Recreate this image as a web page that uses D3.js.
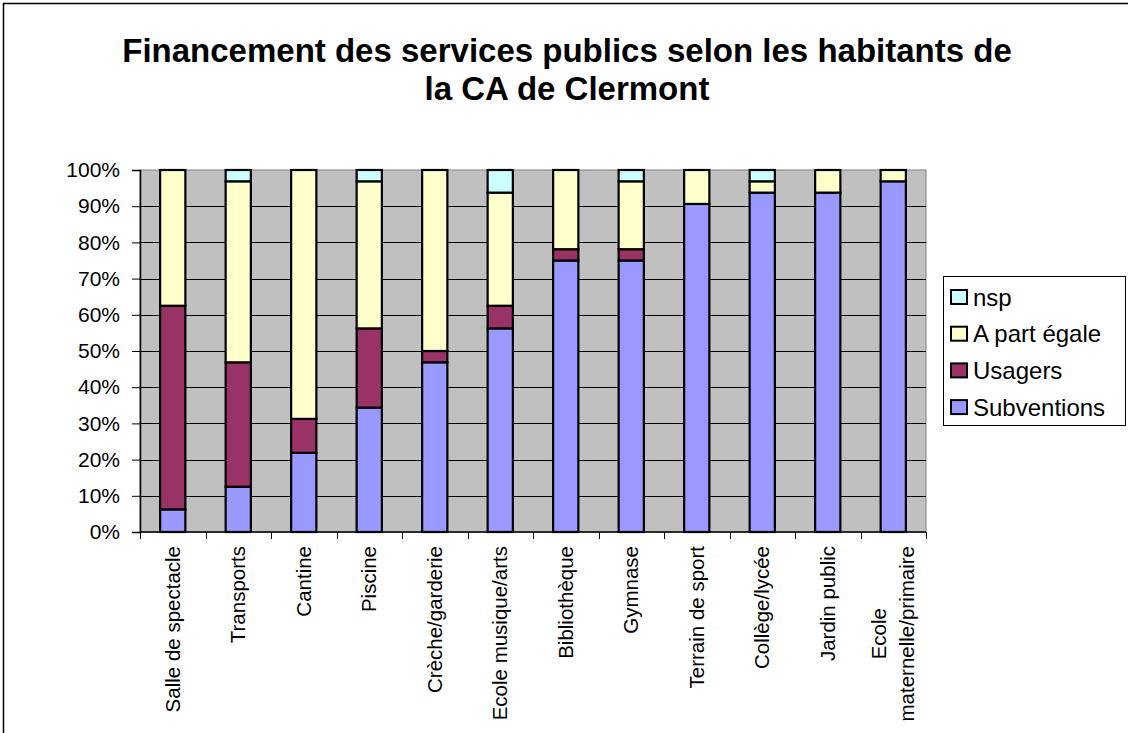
<!DOCTYPE html>
<html>
<head>
<meta charset="utf-8">
<script src="https://cdn.jsdelivr.net/npm/d3@7"></script>
<style>
  html, body { margin: 0; padding: 0; background: #fff; }
  svg { display: block; font-family: "Liberation Sans", Arial, sans-serif; }
</style>
</head>
<body>
<svg id="chart" width="1128" height="733"></svg>
<script>
// Categories (services) and their label lines
const categories = [
  "Salle de spectacle", "Transports", "Cantine", "Piscine", "Crèche/garderie",
  "Ecole musique/arts", "Bibliothèque", "Gymnase", "Terrain de sport",
  "Collège/lycée", "Jardin public", "Ecole maternelle/primaire"
];
const categoryLines = [
  ["Salle de spectacle"], ["Transports"], ["Cantine"], ["Piscine"], ["Crèche/garderie"],
  ["Ecole musique/arts"], ["Bibliothèque"], ["Gymnase"], ["Terrain de sport"],
  ["Collège/lycée"], ["Jardin public"], ["Ecole", "maternelle/primaire"]
];

// Shares of answers (%) per service, stacked bottom to top
const subventions = [6.25, 12.5, 21.875, 34.375, 46.875, 56.25, 75, 75, 90.625, 93.75, 93.75, 96.875];
const usagers     = [56.25, 34.375, 9.375, 21.875, 3.125, 6.25, 3.125, 3.125, 0, 0, 0, 0];
const partEgale   = [37.5, 50, 68.75, 40.625, 50, 31.25, 21.875, 18.75, 9.375, 3.125, 6.25, 3.125];
const nsp         = [0, 3.125, 0, 3.125, 0, 6.25, 0, 3.125, 0, 3.125, 0, 0];

const seriesNames  = ["Subventions", "Usagers", "A part égale", "nsp"];
const seriesColors = ["#9999FF", "#993366", "#FFFFCC", "#CCFFFF"];
const yTicks = [0, 10, 20, 30, 40, 50, 60, 70, 80, 90, 100];

const title = ["Financement des services publics selon les habitants de", "la CA de Clermont"];

const rows = categories.map((c, i) => ({
  cat: c,
  "Subventions": subventions[i],
  "Usagers": usagers[i],
  "A part égale": partEgale[i],
  "nsp": nsp[i]
}));

const svg = d3.select("#chart");
const plot = { left: 140, right: 926, top: 170, bottom: 532 };

// Outer chart frame
svg.append("rect")
  .attr("x", 3.5).attr("y", 3.5)
  .attr("width", 1140).attr("height", 740)
  .attr("fill", "#fff").attr("stroke", "#000").attr("stroke-width", 1.5);

// Title
const titleText = svg.append("text")
  .attr("x", 567).attr("y", 62)
  .attr("text-anchor", "middle")
  .attr("font-size", 33).attr("font-weight", "bold").attr("fill", "#000");
titleText.selectAll("tspan").data(title).join("tspan")
  .attr("x", 567).attr("dy", (d, i) => i === 0 ? 0 : 38)
  .text(d => d);

const x = d3.scaleBand().domain(categories).range([plot.left, plot.right]).paddingInner(0).paddingOuter(0);
const y = d3.scaleLinear().domain([0, 100]).range([plot.bottom, plot.top]);

// Plot area background
svg.append("rect")
  .attr("x", plot.left).attr("y", plot.top)
  .attr("width", plot.right - plot.left).attr("height", plot.bottom - plot.top)
  .attr("fill", "#C0C0C0").attr("stroke", "#808080").attr("stroke-width", 1);

// Horizontal gridlines
svg.append("g").selectAll("line").data(yTicks.filter(t => t > 0 && t < 100)).join("line")
  .attr("x1", plot.left).attr("x2", plot.right)
  .attr("y1", d => Math.round(y(d)) + 0.5).attr("y2", d => Math.round(y(d)) + 0.5)
  .attr("stroke", "#000").attr("stroke-width", 1);

// Stacked bars
const stack = d3.stack().keys(seriesNames)(rows);
const barW = x.bandwidth() * 0.385;
svg.append("g").selectAll("g").data(stack).join("g")
  .attr("fill", (d, i) => seriesColors[i])
  .selectAll("rect").data(d => d.filter(s => s[1] - s[0] > 0)).join("rect")
  .attr("x", d => x(d.data.cat) + (x.bandwidth() - barW) / 2)
  .attr("width", barW)
  .attr("y", d => y(d[1]))
  .attr("height", d => y(d[0]) - y(d[1]))
  .attr("stroke", "#000").attr("stroke-width", 2.2);

// Y axis
const yAxis = d3.axisLeft(y).tickValues(yTicks).tickFormat(d => d + "%").tickSize(8).tickPadding(12);
const gy = svg.append("g").attr("transform", `translate(${plot.left},0)`).call(yAxis);
gy.select(".domain").attr("stroke", "#000").attr("stroke-width", 1.5);
gy.selectAll(".tick line").attr("stroke", "#000");
gy.selectAll(".tick text").attr("font-size", 21).attr("fill", "#000")
  .attr("font-family", "Liberation Sans, Arial, sans-serif");

// X axis baseline and category boundary ticks
svg.append("line")
  .attr("x1", plot.left).attr("x2", plot.right)
  .attr("y1", plot.bottom).attr("y2", plot.bottom)
  .attr("stroke", "#000").attr("stroke-width", 1.5);
const bounds = categories.map(c => x(c)).concat([plot.right]);
svg.append("g").selectAll("line").data(bounds).join("line")
  .attr("x1", d => Math.round(d) + 0.5).attr("x2", d => Math.round(d) + 0.5)
  .attr("y1", plot.bottom).attr("y2", plot.bottom + 7)
  .attr("stroke", "#000").attr("stroke-width", 1);

// Rotated category labels
const labelTop = 546;
const lab = svg.append("g").selectAll("g").data(categoryLines).join("g")
  .attr("transform", (d, i) => `translate(${x(categories[i]) + x.bandwidth() / 2},${labelTop}) rotate(-90)`);
lab.each(function (lines) {
  const g = d3.select(this);
  const texts = lines.map((ln, j) => g.append("text")
    .attr("font-size", 20.5).attr("fill", "#000")
    .attr("text-anchor", "end")
    .attr("y", lines.length === 1 ? 7 : -7.5 + j * 28)
    .text(ln));
  if (lines.length > 1) {
    const lens = texts.map(t => t.node().getComputedTextLength());
    const maxLen = d3.max(lens);
    texts.forEach((t, j) => t.attr("x", -(maxLen - lens[j]) / 2));
  }
});

// Legend
const legend = svg.append("g");
legend.append("rect")
  .attr("x", 943.5).attr("y", 276.5).attr("width", 182).attr("height", 149)
  .attr("fill", "#fff").attr("stroke", "#000").attr("stroke-width", 1);
const legendOrder = [3, 2, 1, 0];
const li = legend.selectAll("g.item").data(legendOrder).join("g")
  .attr("class", "item")
  .attr("transform", (d, k) => `translate(951,${297 + k * 36.7})`);
li.append("rect")
  .attr("x", 0).attr("y", -7).attr("width", 16).attr("height", 14)
  .attr("fill", d => seriesColors[d]).attr("stroke", "#000").attr("stroke-width", 2);
li.append("text")
  .attr("x", 22).attr("y", 8.5)
  .attr("font-size", 24).attr("fill", "#000")
  .text(d => seriesNames[d]);
</script>
</body>
</html>
